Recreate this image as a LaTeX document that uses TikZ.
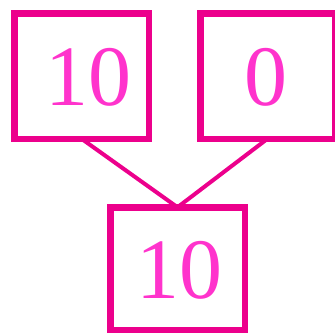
\documentclass[tikz,border=0pt]{standalone}
\usepackage{fontspec}
\setmainfont{Liberation Serif}
\definecolor{boxpink}{HTML}{EC008C}
\definecolor{txtpink}{HTML}{FF33CC}
\begin{document}
\begin{tikzpicture}[x=1pt,y=-1pt,
  numbox/.style={draw=boxpink, line width=6.5pt, minimum width=134.5pt, minimum height=125.5pt,
    inner sep=0pt, outer sep=0pt},
  numtext/.style={text=txtpink, font=\fontsize{86}{86}\selectfont, inner sep=0pt},
  link/.style={draw=boxpink, line width=4pt}]
\useasboundingbox (0,0) rectangle (335,333);
\node[numbox] (a) at (81.5,76) {};
\node[numbox] (b) at (267.5,76) {};
\node[numbox, minimum height=122.5pt] (c) at (177.5,268.5) {};
\node[numtext] (ta) at (88.5,77) {10};
\node[numtext] (tb) at (265.5,77) {0};
\node[numtext] (tc) at (179,270) {10};
\draw[link] (a.south) -- (c.north);
\draw[link] (b.south) -- (c.north);
\end{tikzpicture}
\end{document}
